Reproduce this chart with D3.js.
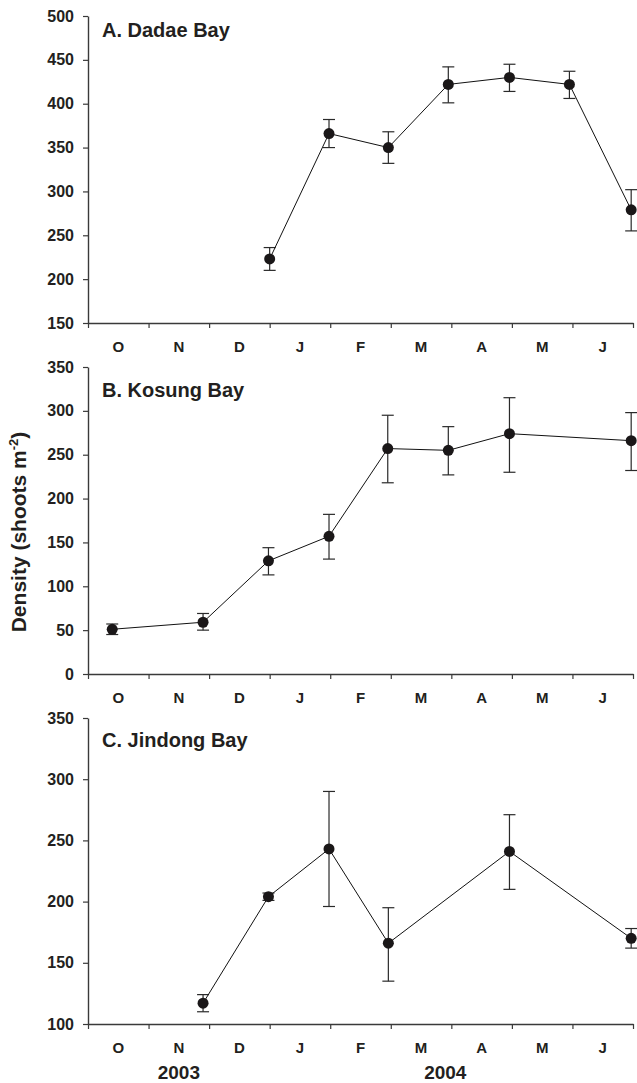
<!DOCTYPE html>
<html>
<head>
<meta charset="utf-8">
<script src="https://cdn.jsdelivr.net/npm/d3@7"></script>
<style>
  body { margin: 0; background: #fff; }
  text { font-family: "Liberation Sans", Arial, sans-serif; font-weight: bold; fill: #231f20; }
</style>
</head>
<body>
<div class="chart"></div>
<script>
// months (axis runs Oct 2003 - Jun 2004), positions are month index (0 = start of Oct)
var months = ["O", "N", "D", "J", "F", "M", "A", "M", "J"];
var years = [{label: "2003", pos: 1.5}, {label: "2004", pos: 5.9}];

// A. Dadae Bay
var dadaeTicks = [150, 200, 250, 300, 350, 400, 450, 500];
var dadaeT = [3.0, 3.98, 4.96, 5.95, 6.96, 7.95, 8.97];
var dadaeMean = [223, 366, 350, 422, 430, 422, 279];
var dadaeLo = [210, 350, 332, 401, 414, 406, 255];
var dadaeHi = [236, 382, 368, 442, 445, 437, 302];

// B. Kosung Bay
var kosungTicks = [0, 50, 100, 150, 200, 250, 300, 350];
var kosungT = [0.4, 1.9, 2.98, 3.98, 4.95, 5.95, 6.96, 8.97];
var kosungMean = [51, 59, 129, 157, 257, 255, 274, 266];
var kosungLo = [45, 50, 113, 131, 218, 227, 230, 232];
var kosungHi = [57, 69, 144, 182, 295, 282, 315, 298];

// C. Jindong Bay
var jindongTicks = [100, 150, 200, 250, 300, 350];
var jindongT = [1.9, 2.98, 3.98, 4.96, 6.96, 8.97];
var jindongMean = [117, 204, 243, 166, 241, 170];
var jindongLo = [110, 201, 196, 135, 210, 162];
var jindongHi = [124, 207, 290, 195, 271, 178];

var panels = [
  {title: "A. Dadae Bay", t: dadaeT, mean: dadaeMean, lo: dadaeLo, hi: dadaeHi, ticks: dadaeTicks,
   domain: [150, 500], top: 16, bottom: 323, titleY: 37},
  {title: "B. Kosung Bay", t: kosungT, mean: kosungMean, lo: kosungLo, hi: kosungHi, ticks: kosungTicks,
   domain: [0, 350], top: 367, bottom: 674, titleY: 397},
  {title: "C. Jindong Bay", t: jindongT, mean: jindongMean, lo: jindongLo, hi: jindongHi, ticks: jindongTicks,
   domain: [100, 350], top: 718, bottom: 1024, titleY: 747}
];

var svgWidth = 637;
var svgHeight = 1083;

var svg = d3.select(".chart")
  .append("svg")
  .attr("width", svgWidth)
  .attr("height", svgHeight);

var x = d3.scaleLinear().domain([0, 9]).range([88, 633]);
var axisColor = "#3a3a3a";

panels.forEach(function(p, pi) {
  var y = d3.scaleLinear().domain(p.domain).range([p.bottom, p.top]);
  var g = svg.append("g");

  // y axis
  var yAxis = g.append("g")
    .attr("transform", "translate(88,0)")
    .call(d3.axisLeft(y).tickValues(p.ticks).tickSize(5).tickSizeOuter(0).tickPadding(9));
  yAxis.attr("font-size", 16).attr("font-family", null);
  yAxis.select(".domain").attr("stroke", axisColor).attr("stroke-width", 1.4);
  yAxis.selectAll(".tick line").attr("stroke", axisColor).attr("stroke-width", 1.2);
  yAxis.selectAll(".tick text").attr("fill", "#231f20");

  // x axis
  var xAxis = g.append("g")
    .attr("transform", "translate(0," + p.bottom + ")")
    .call(d3.axisBottom(x).ticks(9).tickSize(5).tickSizeOuter(0).tickFormat(""));
  xAxis.select(".domain").attr("stroke", axisColor).attr("stroke-width", 1.4);
  xAxis.selectAll(".tick line").attr("stroke", axisColor).attr("stroke-width", 1.2);

  g.selectAll(".month")
    .data(months)
    .enter()
    .append("text")
      .attr("x", function(d, i) { return x(i + 0.5); })
      .attr("y", p.bottom + 29)
      .attr("text-anchor", "middle")
      .attr("font-size", 15)
      .text(function(d) { return d; });

  g.append("text")
    .attr("x", 102)
    .attr("y", p.titleY)
    .attr("font-size", 20)
    .text(p.title);

  var pts = p.t.map(function(t, i) {
    return {t: t, m: p.mean[i], lo: p.lo[i], hi: p.hi[i]};
  });

  // error bars
  var eb = g.selectAll(".err").data(pts).enter().append("g");
  eb.append("line")
    .attr("x1", function(d) { return x(d.t); })
    .attr("x2", function(d) { return x(d.t); })
    .attr("y1", function(d) { return y(d.lo); })
    .attr("y2", function(d) { return y(d.hi); })
    .attr("stroke", "#2a2a2a").attr("stroke-width", 1.2);
  ["lo", "hi"].forEach(function(k) {
    eb.append("line")
      .attr("x1", function(d) { return x(d.t) - 6; })
      .attr("x2", function(d) { return x(d.t) + 6; })
      .attr("y1", function(d) { return y(d[k]); })
      .attr("y2", function(d) { return y(d[k]); })
      .attr("stroke", "#2a2a2a").attr("stroke-width", 1.2);
  });

  // line
  g.append("path")
    .datum(pts)
    .attr("fill", "none")
    .attr("stroke", "#111")
    .attr("stroke-width", 1)
    .attr("d", d3.line().x(function(d) { return x(d.t); }).y(function(d) { return y(d.m); }));

  g.selectAll(".dot")
    .data(pts)
    .enter()
    .append("circle")
      .attr("cx", function(d) { return x(d.t); })
      .attr("cy", function(d) { return y(d.m); })
      .attr("r", 5.5)
      .attr("fill", "#1a1718");

  if (pi == 2) {
    g.selectAll(".year")
      .data(years)
      .enter()
      .append("text")
        .attr("x", function(d) { return x(d.pos); })
        .attr("y", 1079)
        .attr("text-anchor", "middle")
        .attr("font-size", 19)
        .text(function(d) { return d.label; });
  }
});

// y axis title
var yt = svg.append("text")
  .attr("transform", "translate(26,532) rotate(-90)")
  .attr("text-anchor", "middle")
  .attr("font-size", 21);
yt.append("tspan").text("Density (shoots m");
yt.append("tspan").attr("font-size", 13).attr("dy", -8).text("-2");
yt.append("tspan").attr("dy", 8).text(")");
</script>
</body>
</html>
